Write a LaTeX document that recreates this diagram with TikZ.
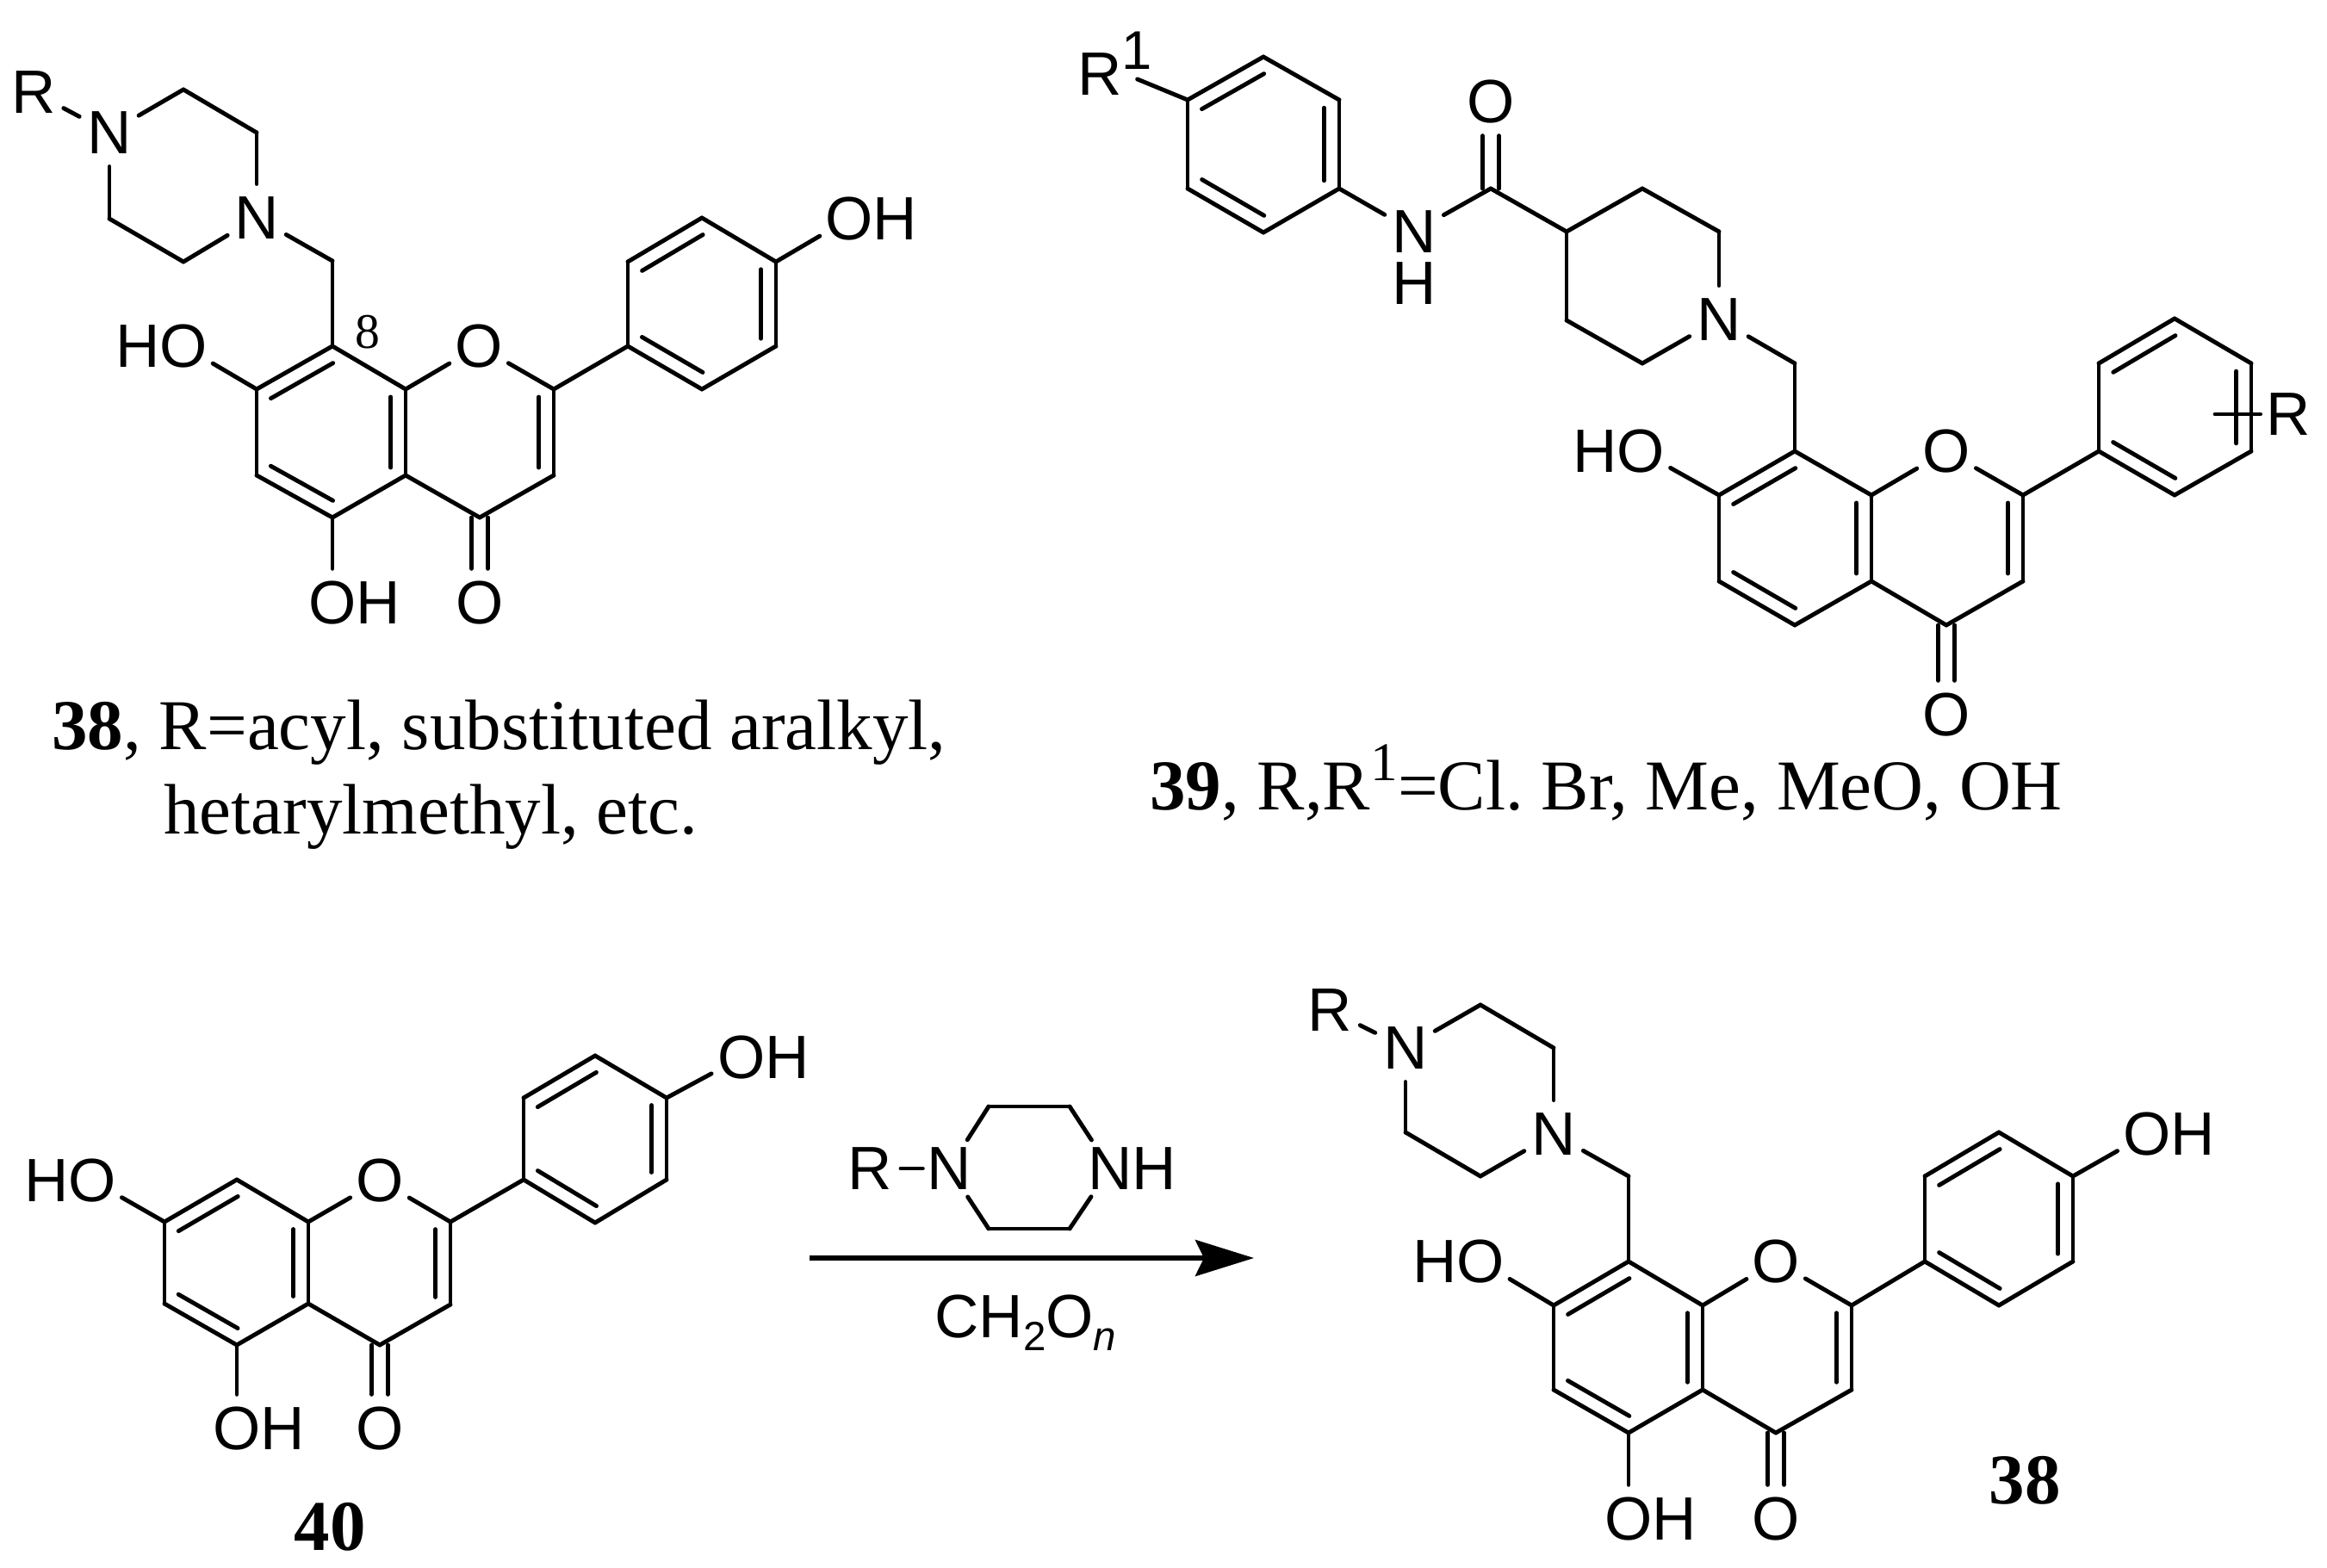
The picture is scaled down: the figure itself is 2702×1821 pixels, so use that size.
\documentclass[tikz,border=0pt]{standalone}
\usepackage{fontspec}
\setmainfont{Liberation Serif}
\newfontfamily\lab{Liberation Sans}
\usetikzlibrary{calc,arrows.meta}
\frenchspacing
\tikzset{
  cc/.style={coordinate},
  het/.style={circle,inner sep=0pt,minimum size=.74cm,font=\lab\fontsize{20.2}{22}\selectfont},
  txt/.style={inner sep=0pt,anchor=base west,font=\fontsize{23.6}{26}\selectfont},
  num/.style={inner sep=0pt,font=\bfseries\fontsize{23.6}{26}\selectfont},
  lft/.style={transform canvas={xshift=-.095cm}},
  rgt/.style={transform canvas={xshift=.095cm}},
}
\newcommand{\inbond}[2]{\draw ($(#1)!.09!(#2)!.174cm!90:(#2)$) to ($(#2)!.09!(#1)!.174cm!-90:(#1)$);}
\newcommand{\supone}[1]{\raisebox{#1}{\fontsize{18}{18}\selectfont 1}}
\begin{document}
\begin{tikzpicture}[x=.01cm,y=-.01cm,line width=1.4pt,line cap=round,line join=round]
  \useasboundingbox (0,0) rectangle (2702,1821);
  % upper left
  \draw
    (39,107) node[het] (ar){R}
    (127,154) node[het] (an1){N}
    (213,104) node[cc] (ac1){}
    (298,154) node[cc] (ac2){}
    (298,253) node[het] (an2){N}
    (213,304) node[cc] (ac3){}
    (127,254) node[cc] (ac4){}
    (386,303) node[cc] (ach){}
    (386,402) node[cc] (a8){}
    (298,452) node[cc] (a7){}
    (298,552) node[cc] (a6){}
    (386,601) node[cc] (a5){}
    (471,552) node[cc] (a4a){}
    (471,452) node[cc] (a8a){}
    (556,402) node[het] (ao1){O}
    (643,452) node[cc] (a2){}
    (643,552) node[cc] (a3){}
    (557,601) node[cc] (a4){}
    (557,700) node[het] (ao4){O}
    (386,700) node[het] (ao5){O\rlap{H}}
    (213,402) node[het] (ao7){\llap{H}O}
    (729,402) node[cc] (ap1){}
    (815,452) node[cc] (ap2){}
    (901,402) node[cc] (ap3){}
    (901,304) node[cc] (ap4){}
    (815,253) node[cc] (ap5){}
    (729,304) node[cc] (ap6){}
    (986,254) node[het] (aoh){O\rlap{H}};
  \node[inner sep=0pt,font=\fontsize{16.4}{18}\selectfont] (alab8) at (427,386) {8};
  \begin{scope}
    \draw (ar) to (an1);
    \draw (an1) to (ac1);
    \draw (ac1) to (ac2);
    \draw (ac2) to (an2);
    \draw (an2) to (ac3);
    \draw (ac3) to (ac4);
    \draw (ac4) to (an1);
    \draw (an2) to (ach);
    \draw (ach) to (a8);
    \draw (a8) to (a7);
    \draw (a7) to (a6);
    \draw (a6) to (a5);
    \draw (a5) to (a4a);
    \draw (a4a) to (a8a);
    \draw (a8a) to (a8);
    \draw (a8a) to (ao1);
    \draw (ao1) to (a2);
    \draw (a2) to (a3);
    \draw (a3) to (a4);
    \draw (a4) to (a4a);
    \draw[lft] (a4) to (ao4);
    \draw[rgt] (a4) to (ao4);
    \draw (a5) to (ao5);
    \draw (a7) to (ao7);
    \draw (a2) to (ap1);
    \draw (ap1) to (ap2);
    \draw (ap2) to (ap3);
    \draw (ap3) to (ap4);
    \draw (ap4) to (ap5);
    \draw (ap5) to (ap6);
    \draw (ap6) to (ap1);
    \draw (ap4) to (aoh);
    \inbond{a8}{a7}
    \inbond{a6}{a5}
    \inbond{a4a}{a8a}
    \inbond{a3}{a2}
    \inbond{ap5}{ap6}
    \inbond{ap1}{ap2}
    \inbond{ap3}{ap4}
  \end{scope}
  \node[txt] (acap1) at (58,870) {\textbf{38}, R=acyl, substituted aralkyl,};
  \node[txt] (acap2) at (188,968) {hetarylmethyl, etc.};
  % upper right
  \draw
    (1277,74) node[het] (br1){R\rlap{\supone{.42em}}}
    (1467,66) node[cc] (bq1){}
    (1379,116) node[cc] (bq2){}
    (1379,219) node[cc] (bq3){}
    (1467,270) node[cc] (bq4){}
    (1555,219) node[cc] (bq5){}
    (1555,116) node[cc] (bq6){}
    (1642,269) node[het] (bnh){N}
    (1731,219) node[cc] (bco){}
    (1731,118) node[het] (boa){O}
    (1819,269) node[cc] (bc1){}
    (1907,219) node[cc] (bc2){}
    (1996,269) node[cc] (bc3){}
    (1996,371) node[het] (bn){N}
    (1907,422) node[cc] (bc4){}
    (1819,372) node[cc] (bc5){}
    (2084,422) node[cc] (bch){}
    (2084,524) node[cc] (b8){}
    (1996,575) node[cc] (b7){}
    (1996,675) node[cc] (b6){}
    (2084,726) node[cc] (b5){}
    (2173,675) node[cc] (b4a){}
    (2173,575) node[cc] (b8a){}
    (2260,524) node[het] (bo1){O}
    (2349,575) node[cc] (b2){}
    (2349,675) node[cc] (b3){}
    (2260,726) node[cc] (b4){}
    (2260,830) node[het] (bo4){O}
    (1905,524) node[het] (bo7){\llap{H}O}
    (2437,524) node[cc] (bp1){}
    (2525,575) node[cc] (bp2){}
    (2614,524) node[cc] (bp3){}
    (2614,422) node[cc] (bp4){}
    (2525,370) node[cc] (bp5){}
    (2437,422) node[cc] (bp6){}
    (2572,481) node[cc] (brb){}
    (2657,481) node[het] (br){R};
  \node[inner sep=0pt,font=\lab\fontsize{20.2}{22}\selectfont] (bh) at (1642,329) {H};
  \begin{scope}
    \draw (br1) to (bq2);
    \draw (bq1) to (bq2);
    \draw (bq2) to (bq3);
    \draw (bq3) to (bq4);
    \draw (bq4) to (bq5);
    \draw (bq5) to (bq6);
    \draw (bq6) to (bq1);
    \draw (bq5) to (bnh);
    \draw (bnh) to (bco);
    \draw[lft] (bco) to (boa);
    \draw[rgt] (bco) to (boa);
    \draw (bco) to (bc1);
    \draw (bc1) to (bc2);
    \draw (bc2) to (bc3);
    \draw (bc3) to (bn);
    \draw (bn) to (bc4);
    \draw (bc4) to (bc5);
    \draw (bc5) to (bc1);
    \draw (bn) to (bch);
    \draw (bch) to (b8);
    \draw (b8) to (b7);
    \draw (b7) to (b6);
    \draw (b6) to (b5);
    \draw (b5) to (b4a);
    \draw (b4a) to (b8a);
    \draw (b8a) to (b8);
    \draw (b8a) to (bo1);
    \draw (bo1) to (b2);
    \draw (b2) to (b3);
    \draw (b3) to (b4);
    \draw (b4) to (b4a);
    \draw[lft] (b4) to (bo4);
    \draw[rgt] (b4) to (bo4);
    \draw (b7) to (bo7);
    \draw (b2) to (bp1);
    \draw (bp1) to (bp2);
    \draw (bp2) to (bp3);
    \draw (bp3) to (bp4);
    \draw (bp4) to (bp5);
    \draw (bp5) to (bp6);
    \draw (bp6) to (bp1);
    \draw[shorten >=-2pt] (brb) to (br);
    \inbond{bq1}{bq2}
    \inbond{bq3}{bq4}
    \inbond{bq5}{bq6}
    \inbond{b8}{b7}
    \inbond{b6}{b5}
    \inbond{b4a}{b8a}
    \inbond{b3}{b2}
    \inbond{bp5}{bp6}
    \inbond{bp1}{bp2}
    \inbond{bp3}{bp4}
  \end{scope}
  \node[txt] (bcap) at (1333,940) {\textbf{39}, R,R\supone{.4em}=Cl. Br, Me, MeO, OH};
  % lower left
  \draw
    (107,1371) node[het] (co7){\llap{H}O}
    (191,1419) node[cc] (c7){}
    (275,1370) node[cc] (c8){}
    (358,1419) node[cc] (c8a){}
    (358,1514) node[cc] (c4a){}
    (275,1562) node[cc] (c5){}
    (191,1514) node[cc] (c6){}
    (441,1371) node[het] (co1){O}
    (523,1419) node[cc] (c2){}
    (523,1515) node[cc] (c3){}
    (441,1562) node[cc] (c4){}
    (441,1659) node[het] (co4){O}
    (275,1659) node[het] (co5){O\rlap{H}}
    (608,1370) node[cc] (cp1){}
    (691,1420) node[cc] (cp2){}
    (774,1370) node[cc] (cp3){}
    (774,1275) node[cc] (cp4){}
    (691,1226) node[cc] (cp5){}
    (608,1275) node[cc] (cp6){}
    (861,1228) node[het] (coh){O\rlap{H}};
  \begin{scope}
    \draw (co7) to (c7);
    \draw (c7) to (c8);
    \draw (c8) to (c8a);
    \draw (c8a) to (c4a);
    \draw (c4a) to (c5);
    \draw (c5) to (c6);
    \draw (c6) to (c7);
    \draw (c8a) to (co1);
    \draw (co1) to (c2);
    \draw (c2) to (c3);
    \draw (c3) to (c4);
    \draw (c4) to (c4a);
    \draw[lft] (c4) to (co4);
    \draw[rgt] (c4) to (co4);
    \draw (c5) to (co5);
    \draw (c2) to (cp1);
    \draw (cp1) to (cp2);
    \draw (cp2) to (cp3);
    \draw (cp3) to (cp4);
    \draw (cp4) to (cp5);
    \draw (cp5) to (cp6);
    \draw (cp6) to (cp1);
    \draw (cp4) to (coh);
    \inbond{c8}{c7}
    \inbond{c6}{c5}
    \inbond{c4a}{c8a}
    \inbond{c3}{c2}
    \inbond{cp5}{cp6}
    \inbond{cp1}{cp2}
    \inbond{cp3}{cp4}
  \end{scope}
  \node[num] (clab) at (383,1773) {40};
  % reagent and arrow
  \draw
    (1010,1357) node[het] (rr){R}
    (1102,1357) node[het] (rn1){N}
    (1289,1357) node[het] (rn2){N\rlap{H}}
    (1148,1285) node[cc] (rc1){}
    (1242,1285) node[cc] (rc2){}
    (1148,1427) node[cc] (rc3){}
    (1242,1427) node[cc] (rc4){}
    (940,1461) node[cc] (arra){}
    (1456,1461) node[cc] (arrb){};
  \begin{scope}
    \draw[shorten <=-1pt,shorten >=-2.5pt] (rr) to (rn1);
    \draw (rn1) to (rc1);
    \draw (rc1) to (rc2);
    \draw (rc2) to (rn2);
    \draw (rn2) to (rc4);
    \draw (rc4) to (rc3);
    \draw (rc3) to (rn1);
    \draw[line cap=butt,line width=1.5pt,-{Stealth[length=.68cm,width=.42cm,inset=.1cm]}] (arra) to (arrb);
  \end{scope}
  \node[inner sep=0pt,anchor=base west,font=\lab\fontsize{20.2}{22}\selectfont] (rcap) at (1083,1553)
    {CH\raisebox{-.22em}{\fontsize{13.5}{13.5}\selectfont 2}O\raisebox{-.22em}{\fontsize{13.5}{13.5}\selectfont\itshape n}};
  % lower right
  \draw
    (1544,1173) node[het] (dr){R}
    (1632,1217) node[het] (dn1){N}
    (1719,1167) node[cc] (dc1){}
    (1804,1217) node[cc] (dc2){}
    (1804,1317) node[het] (dn2){N}
    (1719,1366) node[cc] (dc3){}
    (1632,1315) node[cc] (dc4){}
    (1891,1366) node[cc] (dch){}
    (1891,1465) node[cc] (d8){}
    (1804,1516) node[cc] (d7){}
    (1804,1614) node[cc] (d6){}
    (1891,1664) node[cc] (d5){}
    (1977,1614) node[cc] (d4a){}
    (1977,1516) node[cc] (d8a){}
    (2062,1465) node[het] (do1){O}
    (2150,1516) node[cc] (d2){}
    (2150,1614) node[cc] (d3){}
    (2062,1664) node[cc] (d4){}
    (2062,1764) node[het] (do4){O}
    (1891,1764) node[het] (do5){O\rlap{H}}
    (1719,1465) node[het] (do7){\llap{H}O}
    (2235,1465) node[cc] (dp1){}
    (2321,1516) node[cc] (dp2){}
    (2407,1465) node[cc] (dp3){}
    (2407,1366) node[cc] (dp4){}
    (2321,1315) node[cc] (dp5){}
    (2235,1366) node[cc] (dp6){}
    (2493,1317) node[het] (doh){O\rlap{H}};
  \begin{scope}
    \draw (dr) to (dn1);
    \draw (dn1) to (dc1);
    \draw (dc1) to (dc2);
    \draw (dc2) to (dn2);
    \draw (dn2) to (dc3);
    \draw (dc3) to (dc4);
    \draw (dc4) to (dn1);
    \draw (dn2) to (dch);
    \draw (dch) to (d8);
    \draw (d8) to (d7);
    \draw (d7) to (d6);
    \draw (d6) to (d5);
    \draw (d5) to (d4a);
    \draw (d4a) to (d8a);
    \draw (d8a) to (d8);
    \draw (d8a) to (do1);
    \draw (do1) to (d2);
    \draw (d2) to (d3);
    \draw (d3) to (d4);
    \draw (d4) to (d4a);
    \draw[lft] (d4) to (do4);
    \draw[rgt] (d4) to (do4);
    \draw (d5) to (do5);
    \draw (d7) to (do7);
    \draw (d2) to (dp1);
    \draw (dp1) to (dp2);
    \draw (dp2) to (dp3);
    \draw (dp3) to (dp4);
    \draw (dp4) to (dp5);
    \draw (dp5) to (dp6);
    \draw (dp6) to (dp1);
    \draw (dp4) to (doh);
    \inbond{d8}{d7}
    \inbond{d6}{d5}
    \inbond{d4a}{d8a}
    \inbond{d3}{d2}
    \inbond{dp5}{dp6}
    \inbond{dp1}{dp2}
    \inbond{dp3}{dp4}
  \end{scope}
  \node[num] (dlab) at (2351,1719) {38};
\end{tikzpicture}
\end{document}
